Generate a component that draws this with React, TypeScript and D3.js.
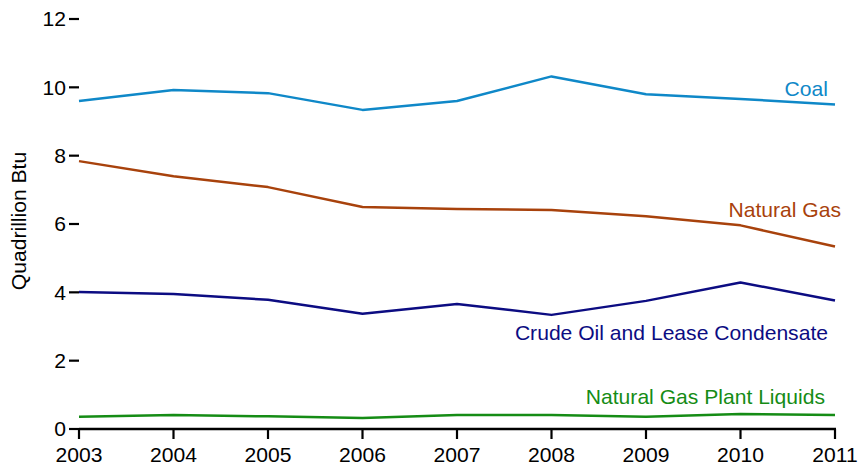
import React from "react";
import * as d3 from "d3";

const years = [2003, 2004, 2005, 2006, 2007, 2008, 2009, 2010, 2011];
const coal = [9.6, 9.92, 9.83, 9.34, 9.6, 10.32, 9.8, 9.66, 9.5];
const naturalGas = [7.84, 7.4, 7.08, 6.5, 6.44, 6.41, 6.23, 5.96, 5.34];
const crudeOil = [4.01, 3.95, 3.78, 3.37, 3.66, 3.34, 3.75, 4.29, 3.76];
const ngpl = [0.36, 0.41, 0.37, 0.32, 0.41, 0.41, 0.36, 0.44, 0.41];
const yTicks = [0, 2, 4, 6, 8, 10, 12];

const seriesNames = ["Coal", "Natural Gas", "Crude Oil and Lease Condensate", "Natural Gas Plant Liquids"];
const seriesValues = [coal, naturalGas, crudeOil, ngpl];
const seriesColors = ["#0f88c8", "#a8420c", "#0c0c82", "#158c15"];
const labelPos = [
  { x: 828, y: 96 },
  { x: 841, y: 217 },
  { x: 828, y: 340 },
  { x: 825, y: 404 },
];

export default function App() {
  const W = 860, H = 468;
  const x = d3.scaleLinear().domain([2003, 2011]).range([79, 835]);
  const y = d3.scaleLinear().domain([0, 12]).range([429, 19]);
  const font = "'Liberation Sans', Arial, Helvetica, sans-serif";
  const fs = 21.1;
  const line = d3
    .line<number>()
    .x((_, i) => x(years[i]))
    .y((d) => y(d));

  return (
    <svg
      width={W}
      height={H}
      style={{ position: "absolute", left: 0, top: 0, background: "#fff" }}
      fontFamily={font}
    >
      {yTicks.map((t) => (
        <g key={t}>
          <line x1={69} x2={79} y1={y(t)} y2={y(t)} stroke="#000" strokeWidth={2.2} />
          <text x={66} y={y(t)} dy="0.35em" textAnchor="end" fontSize={fs} fill="#000">
            {t}
          </text>
        </g>
      ))}
      <line x1={79} x2={836} y1={y(0)} y2={y(0)} stroke="#000" strokeWidth={2.6} />
      {years.map((yr) => (
        <g key={yr}>
          <line x1={x(yr)} x2={x(yr)} y1={y(0)} y2={y(0) + 10} stroke="#000" strokeWidth={2.2} />
          <text x={x(yr)} y={462} textAnchor="middle" fontSize={fs} fill="#000">
            {yr}
          </text>
        </g>
      ))}
      <text
        transform={`translate(26,221) rotate(-90)`}
        textAnchor="middle"
        fontSize={fs}
        fill="#000"
      >
        Quadrillion Btu
      </text>
      {seriesValues.map((vals, i) => (
        <path
          key={seriesNames[i]}
          d={line(vals) || ""}
          fill="none"
          stroke={seriesColors[i]}
          strokeWidth={2.5}
          strokeLinejoin="round"
        />
      ))}
      {seriesNames.map((n, i) => (
        <text
          key={n}
          x={labelPos[i].x}
          y={labelPos[i].y}
          textAnchor="end"
          fontSize={fs}
          fill={seriesColors[i]}
        >
          {n}
        </text>
      ))}
    </svg>
  );
}
